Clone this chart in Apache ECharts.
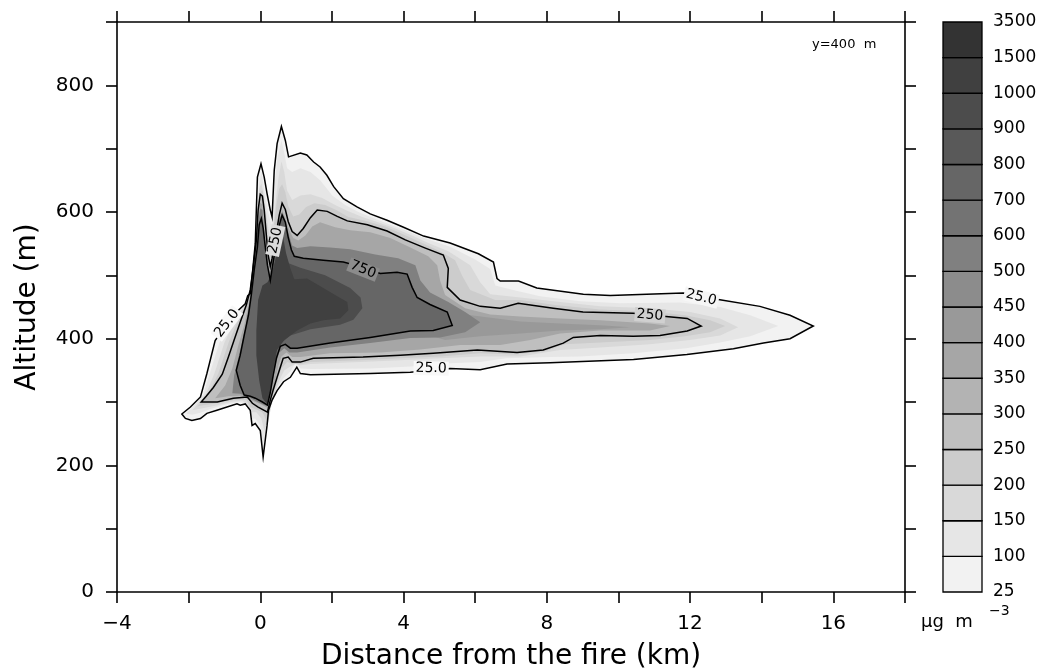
<!DOCTYPE html>
<html>
<head>
<meta charset="utf-8">
<script src="https://cdn.jsdelivr.net/npm/echarts@6/dist/echarts.min.js"></script>
<style>
html, body { margin: 0; padding: 0; background: #fff; }
#chart { width: 1042px; height: 672px; }
</style>
</head>
<body>
<div id="chart"></div>
<script>
// Smoke concentration cross-section at y = 400 m.
// Each contour is a closed ring of [distance (km), altitude (m)] points.

const levels = [25, 100, 150, 200, 250, 300, 350, 400, 450, 500, 600, 700, 800, 900, 1000, 1500, 3500];

const xLabelValues = [-4, 0, 4, 8, 12, 16];
const yLabelValues = [0, 200, 400, 600, 800];

const contour25 = [[-2.19,281],[-1.95,292],[-1.67,308],[-1.49,345],[-1.26,397],[-0.93,424],[-0.61,445],[-0.42,455],[-0.35,468],[-0.28,471],[-0.23,497],[-0.14,550],[-0.11,603],[-0.08,655],[0.02,676],[0.11,655],[0.19,629],[0.28,603],[0.33,592],[0.39,666],[0.47,708],[0.59,735],[0.70,713],[0.79,687],[1.12,693],[1.30,690],[1.49,679],[1.67,671],[1.86,658],[2.05,640],[2.32,621],[2.70,608],[3.07,597],[3.54,587],[4.00,576],[4.56,562],[5.30,551],[6.09,534],[6.51,521],[6.61,495],[6.70,491],[7.21,491],[7.72,480],[9.02,470],[9.77,468],[11.81,472],[12.79,462],[13.95,451],[14.79,437],[15.44,420],[14.79,400],[14.05,393],[13.21,384],[11.91,375],[10.42,367],[8.09,362],[6.89,360],[6.14,351],[5.30,353],[4.19,347],[3.07,345],[1.40,343],[1.12,345],[1.02,355],[0.84,339],[0.65,332],[0.47,318],[0.33,303],[0.23,287],[0.19,263],[0.08,213],[0.00,255],[-0.14,266],[-0.23,263],[-0.28,287],[-0.42,297],[-0.56,295],[-0.65,297],[-1.21,287],[-1.49,282],[-1.67,274],[-1.91,271],[-2.09,274]];

const contour100 = [[-2.07,282],[-1.84,295],[-1.59,312],[-1.40,347],[-1.14,394],[-0.84,424],[-0.53,446],[-0.39,458],[-0.31,470],[-0.22,484],[-0.17,511],[-0.08,551],[-0.06,603],[-0.03,645],[0.03,663],[0.08,645],[0.14,622],[0.22,600],[0.31,579],[0.39,634],[0.47,682],[0.59,713],[0.67,693],[0.75,669],[0.89,663],[1.12,669],[1.40,663],[1.67,650],[2.01,626],[2.37,611],[2.74,600],[3.13,591],[3.63,580],[4.05,571],[4.61,558],[5.30,545],[6.00,525],[6.42,510],[6.56,484],[7.12,476],[7.81,467],[8.93,459],[10.05,456],[11.72,457],[12.84,450],[13.68,437],[14.46,420],[13.68,404],[12.84,394],[11.89,385],[10.41,377],[8.93,372],[8.09,371],[6.87,369],[6.14,363],[5.30,361],[4.19,356],[3.07,353],[1.40,352],[1.12,353],[1.00,363],[0.84,348],[0.64,337],[0.47,322],[0.33,302],[0.25,287],[0.14,247],[0.06,232],[0.00,263],[-0.14,274],[-0.25,273],[-0.31,293],[-0.45,299],[-0.61,300],[-0.98,296],[-1.40,289],[-1.67,283],[-1.90,280]];

const contour150 = [[-1.90,287],[-1.70,300],[-1.51,314],[-1.28,345],[-1.00,394],[-0.73,426],[-0.47,450],[-0.36,461],[-0.28,473],[-0.20,492],[-0.14,524],[-0.08,600],[-0.03,637],[0.03,645],[0.08,631],[0.14,609],[0.20,584],[0.28,555],[0.33,562],[0.42,611],[0.50,650],[0.59,680],[0.67,663],[0.75,634],[0.89,619],[1.12,626],[1.40,628],[1.73,622],[2.09,611],[2.46,601],[2.85,592],[3.29,584],[3.77,574],[4.19,564],[4.69,551],[5.25,538],[5.86,516],[6.14,489],[6.42,470],[7.26,465],[8.37,458],[9.49,451],[10.88,448],[12.00,442],[12.84,432],[13.34,418],[12.84,405],[12.00,398],[10.88,391],[9.49,386],[8.37,382],[7.26,372],[6.14,372],[5.02,369],[3.91,366],[2.79,363],[1.40,360],[1.12,358],[0.98,360],[0.84,356],[0.67,350],[0.53,334],[0.42,315],[0.31,295],[0.22,268],[0.11,255],[0.03,274],[-0.11,284],[-0.25,284],[-0.33,294],[-0.50,302],[-0.84,300],[-1.26,294],[-1.54,291]];

const contour200 = [[-1.76,293],[-1.59,304],[-1.40,319],[-1.17,345],[-0.87,396],[-0.64,426],[-0.42,451],[-0.31,467],[-0.22,484],[-0.17,508],[-0.11,547],[-0.06,601],[0.00,631],[0.06,634],[0.11,615],[0.17,590],[0.22,555],[0.28,532],[0.36,568],[0.45,611],[0.53,637],[0.61,644],[0.70,631],[0.78,609],[0.92,593],[1.09,596],[1.28,608],[1.51,614],[1.81,611],[2.12,603],[2.46,592],[2.93,586],[3.49,577],[3.99,565],[4.52,551],[5.02,538],[5.44,524],[5.64,499],[5.86,477],[6.56,461],[7.26,461],[8.23,453],[9.49,446],[10.88,443],[11.86,437],[12.56,429],[12.98,420],[12.56,410],[11.86,404],[10.88,398],[9.49,394],[8.51,391],[7.95,380],[7.12,375],[6.14,377],[5.02,372],[3.91,369],[2.79,366],[1.40,363],[1.12,360],[0.92,360],[0.75,363],[0.59,353],[0.47,331],[0.36,311],[0.25,287],[0.17,271],[0.06,284],[-0.11,288],[-0.28,292],[-0.39,303],[-0.61,304],[-0.98,301],[-1.34,297],[-1.60,295]];

const contour250 = [[-1.65,300],[-1.51,309],[-1.31,323],[-1.06,344],[-0.89,371],[-0.73,398],[-0.56,426],[-0.39,453],[-0.28,477],[-0.20,511],[-0.11,555],[-0.06,603],[0.00,628],[0.06,625],[0.11,603],[0.17,563],[0.22,532],[0.28,514],[0.33,527],[0.39,547],[0.45,568],[0.53,595],[0.61,614],[0.70,604],[0.78,585],[0.89,569],[1.03,563],[1.20,574],[1.40,591],[1.59,603],[1.87,601],[2.15,593],[2.43,586],[2.99,580],[3.54,570],[4.05,556],[4.61,543],[5.11,532],[5.25,511],[5.22,481],[5.58,461],[6.14,451],[6.70,448],[7.20,456],[8.18,448],[9.01,442],[10.41,440],[11.33,435],[11.92,432],[12.31,420],[11.92,412],[11.16,405],[10.41,404],[9.49,405],[8.74,402],[8.46,393],[7.90,382],[7.17,378],[6.06,382],[4.83,377],[3.91,374],[2.87,371],[1.48,369],[1.12,363],[0.89,363],[0.78,371],[0.64,369],[0.56,355],[0.47,339],[0.36,319],[0.28,303],[0.20,284],[-0.06,292],[-0.22,298],[-0.36,308],[-0.75,306],[-1.20,300]];

const contour350 = [[-1.26,306],[-0.98,326],[-0.78,353],[-0.61,390],[-0.45,421],[-0.31,458],[-0.22,492],[-0.14,540],[-0.06,587],[0.00,615],[0.06,611],[0.11,579],[0.20,532],[0.28,505],[0.36,532],[0.45,559],[0.53,587],[0.61,603],[0.70,590],[0.81,571],[0.92,559],[1.06,555],[1.26,563],[1.45,577],[1.67,584],[2.09,576],[2.51,571],[3.07,568],[3.63,559],[4.19,544],[4.69,530],[4.94,516],[5.02,492],[5.16,469],[5.72,448],[6.42,438],[7.26,435],[8.37,432],[9.49,429],[10.88,424],[11.44,420],[10.88,413],[9.49,413],[8.37,408],[7.54,398],[6.70,390],[5.58,390],[4.47,383],[3.35,378],[1.95,377],[1.12,371],[0.89,371],[0.73,378],[0.59,372],[0.50,356],[0.42,334],[0.31,311],[0.22,290],[0.00,297],[-0.22,302],[-0.56,310],[-0.89,309]];

const contour400 = [[4.74,405],[5.02,461],[5.72,438],[7.26,427],[8.37,424],[9.49,421],[10.33,418],[9.49,415],[8.37,413],[7.26,408],[6.14,404],[5.16,398]];

const contour500 = [[-0.78,314],[-0.73,342],[-0.56,382],[-0.42,416],[-0.31,453],[-0.22,489],[-0.14,532],[-0.06,579],[0.00,606],[0.06,603],[0.11,571],[0.17,532],[0.25,500],[0.33,524],[0.42,555],[0.50,584],[0.61,600],[0.70,587],[0.78,568],[0.89,547],[1.03,543],[1.40,546],[1.95,544],[2.51,541],[3.21,533],[3.85,527],[4.33,516],[4.47,492],[4.74,473],[5.25,458],[5.72,442],[6.14,426],[5.72,410],[5.02,402],[4.19,401],[3.07,393],[1.95,386],[1.03,378],[0.81,378],[0.67,385],[0.53,378],[0.45,363],[0.36,338],[0.28,312],[0.20,293],[0.00,298],[-0.28,306],[-0.56,313]];

const contour750 = [[-0.45,311],[-0.56,326],[-0.67,350],[-0.56,374],[-0.45,405],[-0.33,437],[-0.25,469],[-0.17,508],[-0.08,545],[-0.03,580],[0.03,590],[0.08,575],[0.14,545],[0.20,516],[0.28,492],[0.36,521],[0.45,552],[0.53,579],[0.61,595],[0.70,584],[0.78,560],[0.87,540],[0.95,530],[1.20,527],[1.76,524],[2.32,521],[2.85,513],[3.35,503],[3.82,505],[4.10,502],[4.24,481],[4.38,465],[4.74,454],[5.22,442],[5.36,421],[4.83,413],[4.19,412],[3.07,402],[1.95,393],[1.03,385],[0.84,385],[0.70,391],[0.56,388],[0.45,369],[0.36,342],[0.28,315],[0.20,295],[0.06,300],[-0.14,306],[-0.28,309]];

const contour900 = [[0.70,521],[1.12,512],[1.81,500],[2.51,480],[2.80,465],[2.85,448],[2.60,430],[2.23,422],[1.40,415],[0.84,405],[0.56,392],[0.42,379],[0.64,461],[0.70,492]];

const contour1000 = [[-0.11,413],[-0.06,461],[0.06,484],[0.20,489],[0.31,500],[0.42,525],[0.50,555],[0.57,572],[0.64,560],[0.72,535],[0.84,511],[0.95,494],[1.31,495],[1.76,480],[2.15,467],[2.43,458],[2.46,445],[2.23,432],[1.76,429],[1.40,424],[1.03,413],[0.67,398],[0.47,382],[0.36,350],[0.28,319],[0.20,296],[0.06,306],[-0.03,334],[-0.11,374]];

// filled bands, lowest level first
const fillLevels = [25, 100, 150, 200, 250, 350, 400, 500, 750, 900, 1000];
const fillRings = [contour25, contour100, contour150, contour200, contour250, contour350, contour400, contour500, contour750, contour900, contour1000];

// contours drawn as black lines
const lineRings = [contour25, contour250, contour750];

// inline contour labels
const labelText = ['25.0', '250', '750', '25.0', '250', '25.0'];
const labelAnchor = [[-0.93, 424], [0.42, 555], [2.87, 509], [4.77, 353], [10.88, 437], [12.31, 465]];

// ---- styling ----
const bandColors = ['#f2f2f2', '#e6e6e6', '#d9d9d9', '#cccccc', '#bfbfbf', '#b3b3b3', '#a6a6a6', '#999999',
                    '#8c8c8c', '#808080', '#737373', '#666666', '#595959', '#4c4c4c', '#404040', '#333333'];
const labelAngle = [0.92, 1.36, -0.38, -0.02, -0.08, -0.25];
const labelBack = ['#f8f8f8', '#dcdcdc', '#8c8c8c', '#f8f8f8', '#d0d0d0', '#f6f6f6'];
const FONT = 'DejaVu Sans';
const AXIS_LINE = { color: '#000', width: 1.6 };

function bandOf(v) {
  let k = 0;
  for (let i = 0; i < levels.length - 1; i++) if (v >= levels[i]) k = i;
  return k;
}
const fmtNum = v => (v < 0 ? '\u2212' + Math.abs(v) : String(v));

const chart = echarts.init(document.getElementById('chart'));

const frameAxis = (extra) => Object.assign({
  gridIndex: 0,
  type: 'value',
  axisLine: { show: true, onZero: false, lineStyle: AXIS_LINE },
  axisTick: { show: true, inside: false, length: 11, lineStyle: AXIS_LINE },
  splitLine: { show: false }
}, extra);

const option = {
  animation: false,
  backgroundColor: '#fff',
  grid: [
    { left: 117, right: 137, top: 22, bottom: 80, outerBoundsMode: 'none', containLabel: false },
    { left: 943, top: 22, width: 39, height: 570, outerBoundsMode: 'none', containLabel: false }
  ],
  xAxis: [
    frameAxis({
      min: -4, max: 18, interval: 2, position: 'bottom',
      axisLabel: {
        margin: 22, color: '#000', fontSize: 20, fontFamily: FONT,
        formatter: v => (xLabelValues.indexOf(v) >= 0 ? fmtNum(v) : '')
      },
      name: 'Distance from the fire (km)', nameLocation: 'middle', nameGap: 51,
      nameTextStyle: { color: '#000', fontSize: 28, fontFamily: FONT }
    }),
    frameAxis({ min: -4, max: 18, interval: 2, position: 'top', axisLabel: { show: false } }),
    { gridIndex: 1, type: 'value', min: 0, max: 1, show: false }
  ],
  yAxis: [
    frameAxis({
      min: 0, max: 900, interval: 100, position: 'left',
      axisLabel: {
        margin: 23, color: '#000', fontSize: 20, fontFamily: FONT,
        formatter: v => (yLabelValues.indexOf(v) >= 0 ? String(v) : '')
      },
      name: 'Altitude (m)', nameLocation: 'middle', nameGap: 75, nameRotate: 90,
      nameTextStyle: { color: '#000', fontSize: 28, fontFamily: FONT }
    }),
    frameAxis({ min: 0, max: 900, interval: 100, position: 'right', axisLabel: { show: false } }),
    {
      gridIndex: 1, type: 'value', min: 0, max: 16, interval: 1, position: 'right',
      axisLine: { show: false }, axisTick: { show: false }, splitLine: { show: false },
      axisLabel: {
        margin: 11, color: '#000', fontSize: 17, fontFamily: FONT,
        formatter: v => (levels[v] !== undefined ? String(levels[v]) : '')
      }
    }
  ],
  graphic: [
    { type: 'text', left: 812, top: 38, silent: true,
      style: { text: 'y=400  m', font: '13px ' + FONT, fill: '#000' } },
    { type: 'text', left: 921, top: 613, silent: true,
      style: { text: '\u03bcg  m', font: '18px ' + FONT, fill: '#000' } },
    { type: 'text', left: 989, top: 604, silent: true,
      style: { text: '\u22123', font: '14px ' + FONT, fill: '#000' } }
  ],
  series: [
    {
      // filled concentration bands
      type: 'custom', xAxisIndex: 0, yAxisIndex: 0, clip: true, silent: true, z: 2,
      data: fillRings.map(r => r[0]),
      renderItem: (params, api) => {
        const ring = fillRings[params.dataIndex];
        return {
          type: 'polygon',
          shape: { points: ring.map(p => api.coord(p)) },
          style: { fill: bandColors[bandOf(fillLevels[params.dataIndex])] }
        };
      }
    },
    {
      // contour lines
      type: 'custom', xAxisIndex: 0, yAxisIndex: 0, clip: true, silent: true, z: 3,
      data: lineRings.map(r => r[0]),
      renderItem: (params, api) => ({
        type: 'polygon',
        shape: { points: lineRings[params.dataIndex].map(p => api.coord(p)) },
        style: { fill: 'none', stroke: '#000', lineWidth: 1.5 }
      })
    },
    {
      // contour labels
      type: 'custom', xAxisIndex: 0, yAxisIndex: 0, clip: false, silent: true, z: 4,
      data: labelAnchor,
      renderItem: (params, api) => {
        const i = params.dataIndex;
        const p = api.coord(labelAnchor[i]);
        return {
          type: 'text', x: p[0], y: p[1], rotation: labelAngle[i],
          style: {
            text: labelText[i], fill: '#000', font: '14px ' + FONT,
            align: 'center', verticalAlign: 'middle',
            backgroundColor: labelBack[i], padding: [0, 2]
          }
        };
      }
    },
    {
      // colour bar
      type: 'custom', xAxisIndex: 2, yAxisIndex: 2, silent: true, z: 2,
      data: bandColors.map((c, i) => [0.5, i + 0.5]),
      renderItem: (params, api) => {
        const i = params.dataIndex;
        const a = api.coord([0, i]);
        const b = api.coord([1, i + 1]);
        return {
          type: 'rect',
          shape: { x: a[0], y: b[1], width: b[0] - a[0], height: a[1] - b[1] },
          style: { fill: bandColors[i], stroke: '#000', lineWidth: 1.3 }
        };
      }
    }
  ]
};

chart.setOption(option);
</script>
</body>
</html>
